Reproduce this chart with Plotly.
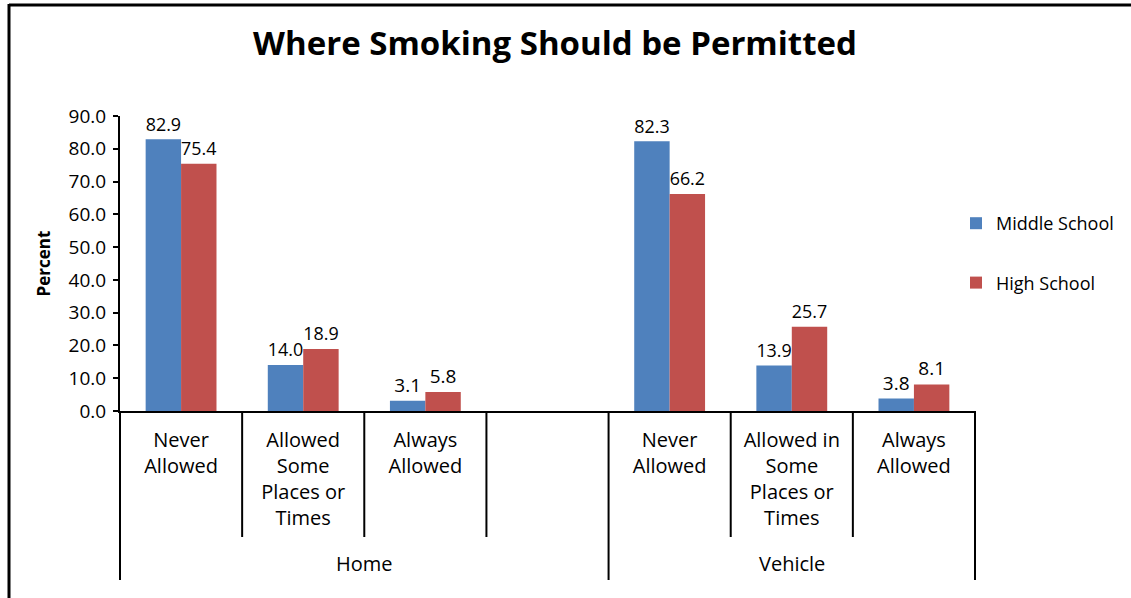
import plotly.graph_objects as go

# Survey categories: inner labels and their outer groups
groups = ["Home", "Vehicle"]
home_cats = ["Never<br>Allowed", "Allowed<br>Some<br>Places or<br>Times", "Always<br>Allowed", ""]
vehicle_cats = ["Never<br>Allowed", "Allowed in<br>Some<br>Places or<br>Times", "Always<br>Allowed"]

middle_home = [82.9, 14.0, 3.1, None]
middle_vehicle = [82.3, 13.9, 3.8]
high_home = [75.4, 18.9, 5.8, None]
high_vehicle = [66.2, 25.7, 8.1]

y_ticks = [0, 10, 20, 30, 40, 50, 60, 70, 80, 90]

cats = home_cats + vehicle_cats
pos = list(range(len(cats)))
middle = middle_home + middle_vehicle
high = high_home + high_vehicle

W, H = 1131, 598
ML, MR, MT, MB = 120, 156, 116, 187
PW, PH = W - ML - MR, H - MT - MB
XMIN, XMAX = -0.5, len(cats) - 0.5

FONT = "Open Sans"
BLUE = "#4F81BD"
RED = "#C0504D"


def px_x(p):
    return (p - ML) / PW


def px_y(q):
    return (MT + PH - q) / PH


def xpaper(v):
    return (v - XMIN) / (XMAX - XMIN)


def fmt(vals):
    return [("" if v is None else f"{v:.1f}") for v in vals]


fig = go.Figure()
fig.add_trace(go.Bar(
    x=pos, y=middle, name="Middle School",
    marker=dict(color=BLUE, line=dict(width=0)),
    text=fmt(middle), textposition="outside", cliponaxis=False,
    textfont=dict(family=FONT, size=19, color="black"),
    legendgroup="m",
))
fig.add_trace(go.Bar(
    x=pos, y=high, name="High School",
    marker=dict(color=RED, line=dict(width=0)),
    text=fmt(high), textposition="outside", cliponaxis=False,
    textfont=dict(family=FONT, size=19, color="black"),
    legendgroup="h",
))

shapes = []
# separators between inner categories
n_home = len(home_cats)
bounds = [i - 0.5 for i in range(len(cats) + 1)]
outer = {bounds[0], bounds[n_home], bounds[-1]}
for b in bounds:
    bottom = 580 if b in outer else 537
    shapes.append(dict(type="line", xref="paper", yref="paper",
                       x0=xpaper(b), x1=xpaper(b), y0=0, y1=px_y(bottom),
                       line=dict(color="black", width=2)))
# chart frame (top and left edges)
shapes.append(dict(type="line", xref="paper", yref="paper",
                   x0=px_x(9), x1=px_x(W + 20), y0=px_y(5), y1=px_y(5),
                   line=dict(color="black", width=3)))
shapes.append(dict(type="line", xref="paper", yref="paper",
                   x0=px_x(9), x1=px_x(9), y0=px_y(4), y1=px_y(H + 20),
                   line=dict(color="black", width=3)))

annotations = []
centers = [(n_home - 1) / 2, n_home + (len(vehicle_cats) - 1) / 2]
for g, c in zip(groups, centers):
    annotations.append(dict(x=c, xref="x", y=px_y(563), yref="paper",
                            text=g, showarrow=False, yanchor="middle",
                            font=dict(family=FONT, size=20, color="black")))

fig.update_layout(
    width=W, height=H,
    margin=dict(l=ML, r=MR, t=MT, b=MB, autoexpand=False),
    paper_bgcolor="white", plot_bgcolor="white",
    barmode="group", bargap=0.42, bargroupgap=0,
    title=dict(text="<b>Where Smoking Should be Permitted</b>",
               x=555 / W, xanchor="center", y=1 - 43 / H, yanchor="middle",
               font=dict(family=FONT, size=33, color="black")),
    showlegend=True,
    legend=dict(x=px_x(956), xanchor="left", y=px_y(205), yanchor="top",
                font=dict(family=FONT, size=18, color="black"),
                tracegroupgap=33, itemwidth=30,
                bgcolor="rgba(0,0,0,0)"),
    shapes=shapes,
    annotations=annotations,
)
fig.update_xaxes(
    range=[XMIN, XMAX], tickmode="array", tickvals=pos, ticktext=cats,
    ticks="", showgrid=False, zeroline=False,
    showline=True, linecolor="black", linewidth=2,
    tickfont=dict(family=FONT, size=20, color="black"),
    ticklabelstandoff=10,
)
fig.update_yaxes(
    range=[0, 90], tickmode="array", tickvals=y_ticks,
    ticktext=[f"{v:.1f}" for v in y_ticks],
    ticks="outside", ticklen=5, tickwidth=2, tickcolor="black",
    showgrid=False, zeroline=False,
    showline=True, linecolor="black", linewidth=2,
    tickfont=dict(family=FONT, size=19, color="black"),
    ticklabelstandoff=3,
    title=dict(text="<b>Percent</b>", standoff=14,
               font=dict(family=FONT, size=17, color="black")),
)

fig.write_html("out.html")
